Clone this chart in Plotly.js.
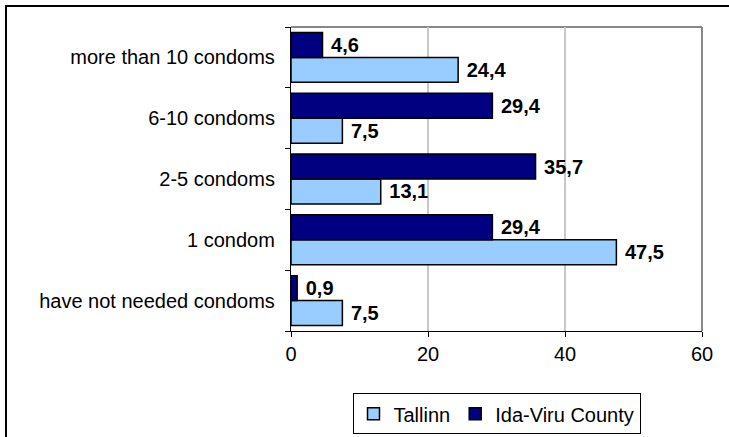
<!DOCTYPE html>
<html>
<head>
<meta charset="utf-8">
<script src="https://cdn.plot.ly/plotly-3.0.1.min.js"></script>
<style>
  html, body { margin: 0; padding: 0; background: #fff; }
  #wrap { position: relative; width: 729px; height: 437px; overflow: hidden; }
  #chart { width: 729px; height: 437px; }
  #frame { position: absolute; left: 5px; top: 5px; width: 740px; height: 450px; border: 2px solid #000; pointer-events: none; box-sizing: border-box; }
</style>
</head>
<body>
<div id="wrap">
  <div id="chart"></div>
  <div id="frame"></div>
</div>
<script>
const categories = ["have not needed condoms", "1 condom", "2-5 condoms", "6-10 condoms", "more than 10 condoms"];
const tallinn = [7.5, 47.5, 13.1, 7.5, 24.4];
const idaViru = [0.9, 29.4, 35.7, 29.4, 4.6];
const xTicks = [0, 20, 40, 60];

const fontFam = "Liberation Sans, Arial, sans-serif";

const traces = [
  {
    type: "bar", orientation: "h", name: "Tallinn",
    y: categories, x: tallinn,
    marker: { color: "#99CCFF", line: { color: "#000000", width: 1.5 } },
    texttemplate: " %{x:.1f}", textposition: "outside", cliponaxis: false,
    textfont: { family: fontFam, size: 20, color: "#000", weight: "bold" }
  },
  {
    type: "bar", orientation: "h", name: "Ida-Viru County",
    y: categories, x: idaViru,
    marker: { color: "#000080", line: { color: "#000000", width: 1.5 } },
    texttemplate: " %{x:.1f}", textposition: "outside", cliponaxis: false,
    textfont: { family: fontFam, size: 20, color: "#000", weight: "bold" }
  }
];

const layout = {
  width: 729, height: 437,
  margin: { l: 291, r: 27, t: 27, b: 106, pad: 0, autoexpand: false },
  paper_bgcolor: "#fff", plot_bgcolor: "#fff",
  separators: ", ",
  barmode: "group", bargap: 0.18, bargroupgap: 0,
  font: { family: fontFam, size: 20, color: "#000" },
  showlegend: true,
  legend: {
    orientation: "h", x: 0.5, xanchor: "center", y: -0.205, yanchor: "top",
    traceorder: "normal",
    bordercolor: "#000", borderwidth: 1,
    font: { family: fontFam, size: 20, color: "#000" },
    itemwidth: 30, tracegroupgap: 0
  },
  xaxis: {
    range: [0, 60], tickvals: xTicks, ticktext: xTicks.map(String),
    showgrid: true, gridcolor: "#C8C8C8", gridwidth: 1.5,
    zeroline: false, showline: true, linecolor: "#000", linewidth: 1,
    ticks: "outside", ticklen: 5, tickcolor: "#000",
    tickfont: { family: fontFam, size: 20, color: "#000" },
    automargin: false, fixedrange: true
  },
  yaxis: {
    type: "category", categoryorder: "array", categoryarray: categories,
    showgrid: false, zeroline: false,
    showline: true, linecolor: "#000", linewidth: 1,
    ticks: "outside", ticklen: 5, tickcolor: "#000", tickson: "boundaries",
    tickfont: { family: fontFam, size: 20, color: "#000" },
    ticksuffix: "  ",
    automargin: false, fixedrange: true
  },
  shapes: [
    { type: "line", xref: "paper", yref: "paper", x0: 0, x1: 1, y0: 1, y1: 1,
      line: { color: "#888888", width: 2 }, layer: "below" },
    { type: "line", xref: "paper", yref: "paper", x0: 1, x1: 1, y0: 0, y1: 1,
      line: { color: "#888888", width: 2 }, layer: "below" }
  ]
};

Plotly.newPlot("chart", traces, layout, { displayModeBar: false, staticPlot: true });
</script>
</body>
</html>
